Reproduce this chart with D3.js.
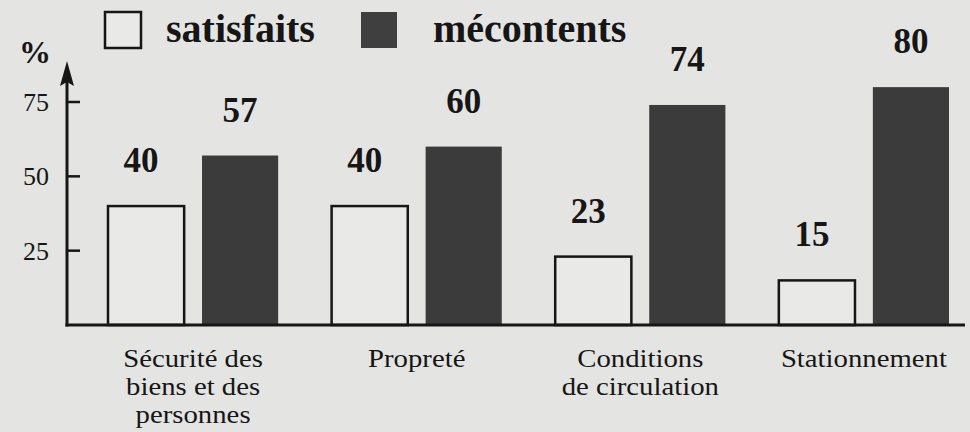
<!DOCTYPE html>
<html>
<head>
<meta charset="utf-8">
<script src="https://cdn.jsdelivr.net/npm/d3@7"></script>
<style>
  body { margin: 0; background: #e4e4e2; }
  svg { display: block; }
</style>
</head>
<body>
<div id="chart"></div>
<script>
// values
const categories = ["Sécurité des biens et des personnes", "Propreté", "Conditions de circulation", "Stationnement"];
const categoryLines = [["Sécurité des", "biens et des", "personnes"], ["Propreté"], ["Conditions", "de circulation"], ["Stationnement"]];
const series = ["satisfaits", "mécontents"];
const satisfaits = [40, 40, 23, 15];
const mecontents = [57, 60, 74, 80];
const yTicks = [25, 50, 75];

const width = 970, height = 432;
const serif = "'Liberation Serif', 'DejaVu Serif', serif";
const ink = "#161616";

const svg = d3.select("#chart").append("svg")
    .attr("width", width)
    .attr("height", height);

svg.append("rect")
    .attr("width", width).attr("height", height)
    .attr("fill", "#e4e4e2");

// scales
const axisX = 67, baseY = 325;
const y = d3.scaleLinear().domain([0, 75]).range([baseY, 102]);
const x = d3.scaleBand().domain(categories).range([108, 949]).paddingInner(0.239);
const xs = d3.scaleBand().domain(series).range([0, x.bandwidth()]).paddingInner(0.19);

const rows = categories.map((c, i) => ({
    cat: c,
    lines: categoryLines[i],
    vals: [{ s: series[0], v: satisfaits[i] }, { s: series[1], v: mecontents[i] }]
}));

// bars
const groups = svg.selectAll("g.grp").data(rows).join("g")
    .attr("class", "grp")
    .attr("transform", d => `translate(${x(d.cat)},0)`);

groups.selectAll("rect").data(d => d.vals).join("rect")
    .attr("x", d => xs(d.s))
    .attr("y", d => y(d.v))
    .attr("width", xs.bandwidth())
    .attr("height", d => baseY - y(d.v))
    .attr("fill", d => d.s === series[0] ? "#e9e9e7" : "#3b3b3b")
    .attr("stroke", d => d.s === series[0] ? ink : "none")
    .attr("stroke-width", 2.5);

groups.selectAll("text.val").data(d => d.vals).join("text")
    .attr("class", "val")
    .attr("x", d => xs(d.s) + xs.bandwidth() / 2 - (d.s === series[0] ? 5 : 0))
    .attr("y", d => y(d.v) - 34)
    .attr("text-anchor", "middle")
    .attr("font-family", serif)
    .attr("font-weight", "bold")
    .attr("font-size", 35)
    .attr("fill", ink)
    .text(d => d.v);

// category labels, widened a little to look like the book face
groups.each(function(d) {
    const t = d3.select(this).append("g")
        .attr("transform", `translate(${x.bandwidth() / 2},0) scale(1.15,1)`)
        .append("text")
        .attr("text-anchor", "middle")
        .attr("font-family", serif)
        .attr("font-size", 25)
        .attr("fill", ink);
    d.lines.forEach((ln, j) => {
        t.append("tspan")
            .attr("x", 0)
            .attr("y", 367 + j * 28)
            .text(ln);
    });
});

// axes
svg.append("line")
    .attr("x1", axisX).attr("x2", axisX)
    .attr("y1", baseY + 1.5).attr("y2", 80)
    .attr("stroke", ink).attr("stroke-width", 3);

svg.append("path")
    .attr("d", `M${axisX},61 L${axisX - 7},86 L${axisX},82 L${axisX + 7},86 Z`)
    .attr("fill", ink);

svg.append("line")
    .attr("x1", axisX - 1.5).attr("x2", 965)
    .attr("y1", baseY).attr("y2", baseY)
    .attr("stroke", ink).attr("stroke-width", 3);

svg.selectAll("line.tick").data(yTicks).join("line")
    .attr("class", "tick")
    .attr("x1", axisX).attr("x2", axisX + 13)
    .attr("y1", d => y(d)).attr("y2", d => y(d))
    .attr("stroke", ink).attr("stroke-width", 2.5);

svg.selectAll("text.tick").data(yTicks).join("text")
    .attr("class", "tick")
    .attr("x", 49)
    .attr("y", d => y(d) + 9)
    .attr("text-anchor", "end")
    .attr("font-family", serif)
    .attr("font-size", 26)
    .attr("fill", ink)
    .text(d => d);

svg.append("text")
    .attr("x", 35).attr("y", 63)
    .attr("text-anchor", "middle")
    .attr("font-family", serif)
    .attr("font-weight", "bold")
    .attr("font-size", 32)
    .attr("fill", ink)
    .text("%");

// legend
const legendX = [105, 361];
const legendTextDx = [61, 72];
const legend = svg.selectAll("g.leg").data(series).join("g")
    .attr("class", "leg")
    .attr("transform", (d, i) => `translate(${legendX[i]},12)`);

legend.append("rect")
    .attr("width", 36).attr("height", 36)
    .attr("fill", (d, i) => i === 0 ? "#e9e9e7" : "#3f3f3f")
    .attr("stroke", (d, i) => i === 0 ? ink : "none")
    .attr("stroke-width", 2.5);

legend.append("text")
    .attr("x", (d, i) => legendTextDx[i]).attr("y", 30)
    .attr("font-family", serif)
    .attr("font-weight", "bold")
    .attr("font-size", 40)
    .attr("fill", ink)
    .text(d => d);
</script>
</body>
</html>
